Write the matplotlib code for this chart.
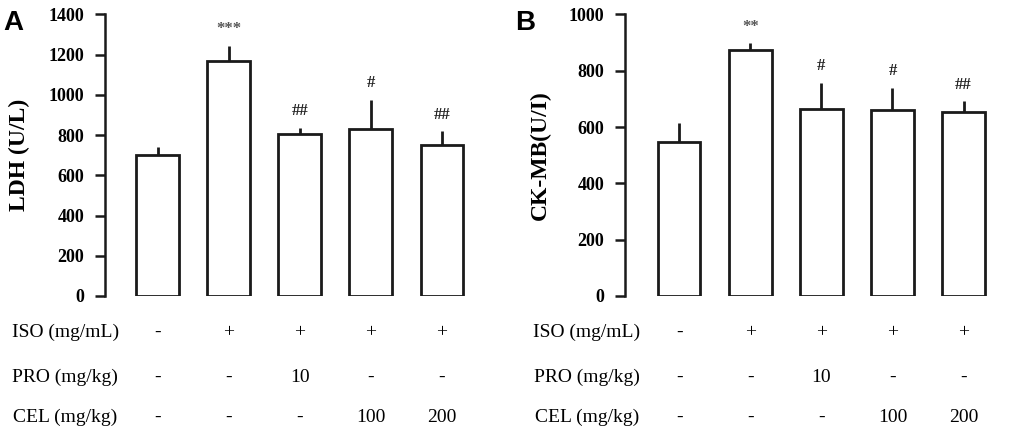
import matplotlib
matplotlib.use("Agg")
import matplotlib.pyplot as plt

# datos
groups = [0, 1, 2, 3, 4]
ldh_mean = [702, 1167, 805, 829, 749]
ldh_err = [40, 78, 31, 147, 70]
ldh_marks = ['', '***', '##', '#', '##']
ck_mean = [548, 873, 665, 660, 654]
ck_err = [67, 24, 92, 80, 38]
ck_marks = ['', '**', '#', '#', '##']

row_names = ['ISO (mg/mL)', 'PRO (mg/kg)', 'CEL (mg/kg)']
iso_row = ['-', '+', '+', '+', '+']
pro_row = ['-', '-', '10', '-', '-']
cel_row = ['-', '-', '-', '100', '200']

serif = 'Liberation Serif'
plt.rcParams['font.family'] = serif

fig = plt.figure(figsize=(10.25, 4.34), dpi=100)
axA = fig.add_axes([0.1024, 0.318, 0.3634, 0.6486])
axB = fig.add_axes([0.6098, 0.318, 0.365, 0.6486])


def panel(ax, mean, err, marks, ymax, step, ylabel, xleft):
    ax.bar(groups, mean, width=0.6, color='white', edgecolor='#1a1a1a',
           linewidth=2.0, zorder=2)
    ax.errorbar(groups, mean, yerr=[[0] * len(err), err], fmt='none',
                ecolor='#1a1a1a', elinewidth=2.0, capsize=0, zorder=1)
    for x, m, e, s in zip(groups, mean, err, marks):
        if s:
            col = '#555555' if '*' in s else '#222222'
            ax.annotate(s, (x, m + e), xytext=(0, 12), textcoords='offset points',
                        ha='center', va='center', fontsize=12, color=col,
                        fontweight='bold')
    ax.set_xlim(xleft, 4.5)
    ax.set_ylim(0, ymax)
    ax.set_yticks(range(0, ymax + 1, step))
    for s in ['top', 'right', 'bottom']:
        ax.spines[s].set_visible(False)
    ax.spines['left'].set_linewidth(1.8)
    ax.spines['left'].set_color('#1a1a1a')
    ax.set_xticks([])
    ax.tick_params(axis='y', direction='out', length=7, width=1.8,
                   labelsize=13, color='#1a1a1a', pad=8)
    for t in ax.get_yticklabels():
        t.set_fontweight('bold')
    ax.set_ylabel(ylabel, fontsize=17, fontweight='bold', labelpad=13)

    tr = ax.get_xaxis_transform()
    rows = [iso_row, pro_row, cel_row]
    ys = [-0.13, -0.29, -0.43]
    for name, row, y in zip(row_names, rows, ys):
        ax.text(-1.3, y, name, transform=tr, ha='center', va='center',
                fontsize=14, clip_on=False)
        for x, v in zip(groups, row):
            ax.text(x, y, v, transform=tr, ha='center', va='center',
                    fontsize=14, clip_on=False)


panel(axA, ldh_mean, ldh_err, ldh_marks, 1400, 200, 'LDH (U/L)', -0.74)
panel(axB, ck_mean, ck_err, ck_marks, 1000, 200, 'CK-MB(U/I)', -0.76)

fig.text(0.003, 0.931, 'A', fontsize=20, fontweight='bold',
         family='Liberation Sans', va='baseline')
fig.text(0.503, 0.931, 'B', fontsize=20, fontweight='bold',
         family='Liberation Sans', va='baseline')

fig.savefig('out.png', dpi=100)
